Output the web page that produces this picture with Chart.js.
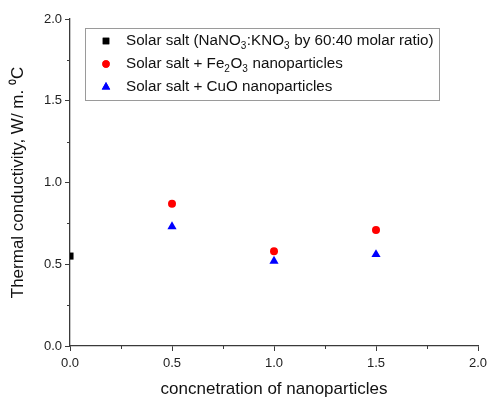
<!DOCTYPE html>
<html>
<head>
<meta charset="UTF-8">
<title>Thermal conductivity</title>
<script src="https://cdn.jsdelivr.net/npm/chart.js"></script>
<style>
  html, body { margin: 0; padding: 0; background: #fff; }
  #wrap { width: 493px; height: 405px; position: relative; }
</style>
</head>
<body>
<div id="wrap"><canvas id="chart"></canvas></div>
<script>
// values
const saltX = [0.0];
const saltY = [0.55];
const fe2o3X = [0.5, 1.0, 1.5];
const fe2o3Y = [0.87, 0.58, 0.71];
const cuoX = [0.5, 1.0, 1.5];
const cuoY = [0.73, 0.52, 0.56];

const seriesNames = [
  'Solar salt (NaNO3:KNO3 by 60:40 molar ratio)',
  'Solar salt + Fe2O3 nanoparticles',
  'Solar salt + CuO nanoparticles'
];
// legend text split in [text, isSubscript]
const legendParts = [
  [['Solar salt (NaNO', 0], ['3', 1], [':KNO', 0], ['3', 1], [' by 60:40 molar ratio)', 0]],
  [['Solar salt + Fe', 0], ['2', 1], ['O', 0], ['3', 1], [' nanoparticles', 0]],
  [['Solar salt + CuO nanoparticles', 0]]
];
const xMinorTicks = [0.25, 0.75, 1.25, 1.75];
const yMinorTicks = [0.25, 0.75, 1.25, 1.75];

const FONT = '"Liberation Sans", Arial, sans-serif';
const AXIS = '#3a3a3a';

function pts(xs, ys) {
  return xs.map((x, i) => ({ x: x, y: ys[i] }));
}

// minor ticks (shorter than the major ones)
const minorTicks = {
  id: 'minorTicks',
  afterDraw(chart) {
    const ctx = chart.ctx;
    const xs = chart.scales.x, ys = chart.scales.y;
    ctx.save();
    ctx.strokeStyle = AXIS;
    ctx.lineWidth = 1;
    ctx.beginPath();
    xMinorTicks.forEach(v => {
      const px = Math.round(xs.getPixelForValue(v)) + 0.5;
      ctx.moveTo(px, ys.bottom);
      ctx.lineTo(px, ys.bottom + 3);
    });
    yMinorTicks.forEach(v => {
      const py = Math.round(ys.getPixelForValue(v)) + 0.5;
      ctx.moveTo(xs.left, py);
      ctx.lineTo(xs.left - 3, py);
    });
    ctx.stroke();
    ctx.restore();
  }
};

// legend box inside the plot, with subscripts
const boxLegend = {
  id: 'boxLegend',
  afterDraw(chart) {
    const ctx = chart.ctx;
    const left = 85, top = 28, width = 354, height = 72;
    ctx.save();
    ctx.fillStyle = '#fff';
    ctx.fillRect(left, top, width, height);
    ctx.strokeStyle = '#9a9a9a';
    ctx.lineWidth = 1;
    ctx.strokeRect(left + 0.5, top + 0.5, width, height);
    chart.data.datasets.forEach((ds, i) => {
      const cy = top + 13 + i * 23;
      ctx.fillStyle = ds.backgroundColor;
      ctx.beginPath();
      Chart.helpers.drawPoint(ctx, {
        pointStyle: ds.pointStyle,
        radius: ds.pointRadius * 0.92,
        borderWidth: 0
      }, 106, cy);
      ctx.fill();
      let x = 126;
      ctx.fillStyle = '#111';
      ctx.textBaseline = 'middle';
      legendParts[i].forEach(([t, sub]) => {
        ctx.font = sub ? '10px ' + FONT : '15.2px ' + FONT;
        ctx.fillText(t, x, sub ? cy + 5 : cy);
        x += ctx.measureText(t).width + (sub ? 0.5 : 0);
      });
    });
    ctx.restore();
  }
};

new Chart(document.getElementById('chart'), {
  type: 'scatter',
  data: {
    datasets: [
      {
        label: seriesNames[0],
        data: pts(saltX, saltY),
        pointStyle: 'rect',
        pointRadius: 5,
        backgroundColor: '#000',
        borderColor: '#000',
        borderWidth: 0,
        clip: 0
      },
      {
        label: seriesNames[1],
        data: pts(fe2o3X, fe2o3Y),
        pointStyle: 'circle',
        pointRadius: 4,
        backgroundColor: '#ff0000',
        borderColor: '#ff0000',
        borderWidth: 0
      },
      {
        label: seriesNames[2],
        data: pts(cuoX, cuoY),
        pointStyle: 'triangle',
        pointRadius: 5.3,
        backgroundColor: '#0000ff',
        borderColor: '#0000ff',
        borderWidth: 0
      }
    ]
  },
  options: {
    responsive: true,
    maintainAspectRatio: false,
    animation: false,
    layout: { padding: { top: 19, right: 15, bottom: 5, left: 0 } },
    plugins: {
      legend: { display: false },
      tooltip: { enabled: false }
    },
    scales: {
      x: {
        type: 'linear',
        min: 0, max: 2,
        border: { display: true, color: AXIS, width: 1.3 },
        grid: { display: true, drawOnChartArea: false, tickLength: 5, color: AXIS },
        ticks: {
          stepSize: 0.5,
          padding: 5,
          color: '#222',
          font: { family: FONT, size: 13 },
          callback: v => v.toFixed(1)
        },
        title: {
          display: true,
          text: 'concnetration of nanoparticles',
          color: '#111',
          font: { family: FONT, size: 17 },
          padding: { top: 6, bottom: 0 }
        },
        afterFit: s => { s.height = 54; }
      },
      y: {
        type: 'linear',
        min: 0, max: 2,
        border: { display: true, color: AXIS, width: 1.3 },
        grid: { display: true, drawOnChartArea: false, tickLength: 5, color: AXIS },
        ticks: {
          stepSize: 0.5,
          padding: 3,
          color: '#222',
          font: { family: FONT, size: 13 },
          callback: v => v.toFixed(1)
        },
        title: {
          display: true,
          text: 'Thermal conductivity, W/ m. \u2070C',
          color: '#111',
          font: { family: FONT, size: 17 },
          padding: { top: 8, bottom: 4 }
        },
        afterFit: s => { s.width = 70; }
      }
    }
  },
  plugins: [minorTicks, boxLegend]
});
</script>
</body>
</html>
